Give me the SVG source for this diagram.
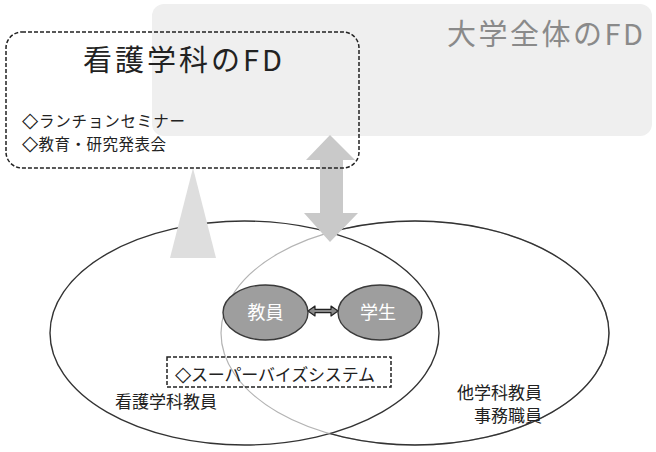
<svg xmlns="http://www.w3.org/2000/svg" width="656" height="452" viewBox="0 0 656 452">
  <style>
    text { font-family: "Noto Sans CJK JP", "Noto Sans", sans-serif; }
    .sym { font-family: "DejaVu Sans", sans-serif; font-size: 21px; }
    .dark { fill: #222222; }
    .ring { fill: none; stroke: #333333; stroke-width: 1.4; }
    .dash { fill: none; stroke: #222222; stroke-width: 1.5; stroke-dasharray: 4 2; }
    .person { fill: #9e9e9e; stroke: #3a3a3a; stroke-width: 1.4; }
    .ptext { fill: #ffffff; font-size: 18px; text-anchor: middle; }
  </style>
  <defs>
    <mask id="outsideLeft">
      <rect x="0" y="0" width="656" height="452" fill="#fff"/>
      <ellipse cx="244.5" cy="333" rx="194.5" ry="112" fill="#000"/>
    </mask>
  </defs>
  <rect width="656" height="452" fill="#ffffff"/>

  <g id="fd-university">
    <rect x="152" y="4" width="500" height="132" rx="12" fill="#efefef"/>
    <text x="545" y="45" font-size="29" fill="#8a8a8a" text-anchor="middle" textLength="196" lengthAdjust="spacing">大学全体のFD</text>
  </g>

  <g id="group-nursing-faculty">
    <ellipse cx="244.5" cy="333" rx="194.5" ry="112" class="ring"/>
    <text x="115" y="408" font-size="17" class="dark">看護学科教員</text>
  </g>

  <g id="group-other-staff">
    <ellipse cx="415" cy="333" rx="194" ry="112" fill="none" stroke="#b4b4b4" stroke-width="1.2"/>
    <ellipse cx="415" cy="333" rx="194" ry="112" class="ring" mask="url(#outsideLeft)"/>
    <text x="542" y="399" font-size="17" class="dark" text-anchor="end">他学科教員</text>
    <text x="542" y="422" font-size="17" class="dark" text-anchor="end">事務職員</text>
  </g>

  <g id="connectors">
    <polygon points="193,168 216,258 170,258" fill="#dedede"/>
    <polygon points="330,135 355,160 343,160 343,213 358,213 330,242 304,213 320,213 320,160 306,160" fill="#c9c9c9"/>
    <polygon points="308,311 315,306 315,309.3 331,309.3 331,306 338,311 331,316 331,312.7 315,312.7 315,316" fill="#8a8a8a" stroke="#222222" stroke-width="1.2" stroke-linejoin="round"/>
  </g>

  <g id="node-teacher">
    <ellipse cx="265.5" cy="312.5" rx="42.5" ry="27.5" class="person"/>
    <text x="265.5" y="319" class="ptext">教員</text>
  </g>

  <g id="node-student">
    <ellipse cx="380" cy="312.5" rx="42" ry="27.5" class="person"/>
    <text x="378" y="319" class="ptext">学生</text>
  </g>

  <g id="node-supervise">
    <rect x="167" y="357" width="224" height="30" class="dash"/>
    <text x="175" y="381" font-size="17" class="dark" textLength="200" lengthAdjust="spacing"><tspan class="sym">◇</tspan>スーパーバイズシステム</text>
  </g>

  <g id="fd-nursing">
    <rect x="6" y="32" width="353" height="136" rx="16" class="dash"/>
    <text x="182.5" y="71" font-size="29" class="dark" text-anchor="middle" textLength="199" lengthAdjust="spacing">看護学科のFD</text>
    <text x="22" y="127" font-size="15.5" class="dark" textLength="163" lengthAdjust="spacing"><tspan class="sym">◇</tspan>ランチョンセミナー</text>
    <text x="22" y="150" font-size="15.5" class="dark" textLength="144" lengthAdjust="spacing"><tspan class="sym">◇</tspan>教育・研究発表会</text>
  </g>
</svg>
